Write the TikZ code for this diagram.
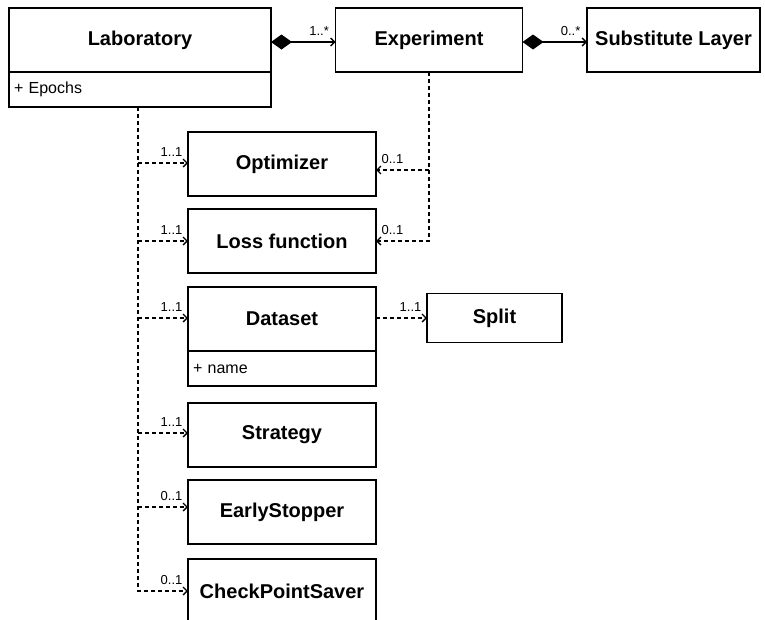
\documentclass[tikz,border=0pt]{standalone}
\usepackage{fontspec}
\setmainfont{Liberation Sans}
\usetikzlibrary{positioning, arrows.meta}
\tikzset{classbox/.style={draw,line width=1.3pt,inner sep=0pt,outer sep=0pt,minimum height=64pt,font=\bfseries\fontsize{20}{24}\selectfont},
         attrbox/.style={draw,line width=1.3pt,inner xsep=5pt,inner ysep=0pt,outer sep=0pt,minimum height=35pt,text width=#1,align=left,font=\fontsize{16}{19}\selectfont},
         dep/.style={line width=1.3pt,dash pattern=on 4pt off 3pt,-{Straight Barb[length=4pt,width=8pt]}},
         comp/.style={line width=1.3pt,{Diamond[length=21pt,width=15pt]}-{Straight Barb[length=4pt,width=8pt]}},
         mult/.style={font=\fontsize{13}{15}\selectfont,inner sep=0pt},
        }
\begin{document}
\begin{tikzpicture}[x=1pt,y=-1pt]
        \useasboundingbox(0,0)rectangle(765,619);

        \node[classbox, minimum width=262pt](lab)at(140,40){Laboratory};
        \node[attrbox=252pt, below=0pt of lab](labattr){+ Epochs};
        \node[classbox, minimum width=187pt](exp)at(429,40){Experiment};
        \node[classbox, minimum width=173pt](sub)at(673.5,40){Substitute Layer};

        \node[classbox, minimum width=188pt](opt)at(282,164){Optimizer};
        \node[classbox, minimum width=188pt](loss)at(282,241){Loss function};
        \node[classbox, minimum width=188pt](data)at(282,319){Dataset};
        \node[attrbox=178pt, below=0pt of data](dataattr){+ name};
        \node[classbox, minimum width=135pt, minimum height=49pt](split)at(494.5,318){Split};
        \node[classbox, minimum width=188pt](strat)at(282,435){Strategy};
        \node[classbox, minimum width=188pt](early)at(282,512){EarlyStopper};
        \node[classbox, minimum width=188pt](cps)at(282,591){CheckPointSaver};

        \draw[comp](lab.east)++(0,2)--([yshift=-2pt]exp.west)node[mult,above left,xshift=-6pt,yshift=6pt]{1..*};
        \draw[comp](exp.east)++(0,2)--([yshift=-2pt]sub.west)node[mult,above left,xshift=-6pt,yshift=6pt]{0..*};

        \draw[dep](exp.south)|-(loss.east)node[mult,above right,xshift=5pt,yshift=6pt]{0..1};
        \draw[dep](exp.south|-opt.east)++(0,6)--([yshift=-6pt]opt.east)node[mult,above right,xshift=5pt,yshift=6pt]{0..1};

        \draw[dep](labattr.south)++(-2,0)|-(cps.west)node[mult,above left,xshift=-5pt,yshift=6pt]{0..1};
        \foreach \n/\m/\s in {opt/1..1/1,loss/1..1/0,data/1..1/1,strat/1..1/2,early/0..1/5}
            \draw[dep](labattr.south|-\n.west)++(-2,-\s)--([yshift=\s pt]\n.west)node[mult,above left,xshift=-5pt,yshift=6pt]{\m};

        \draw[dep](data.east)++(0,-1)--(split.west)node[mult,above left,xshift=-5pt,yshift=6pt]{1..1};
    \end{tikzpicture}
\end{document}
